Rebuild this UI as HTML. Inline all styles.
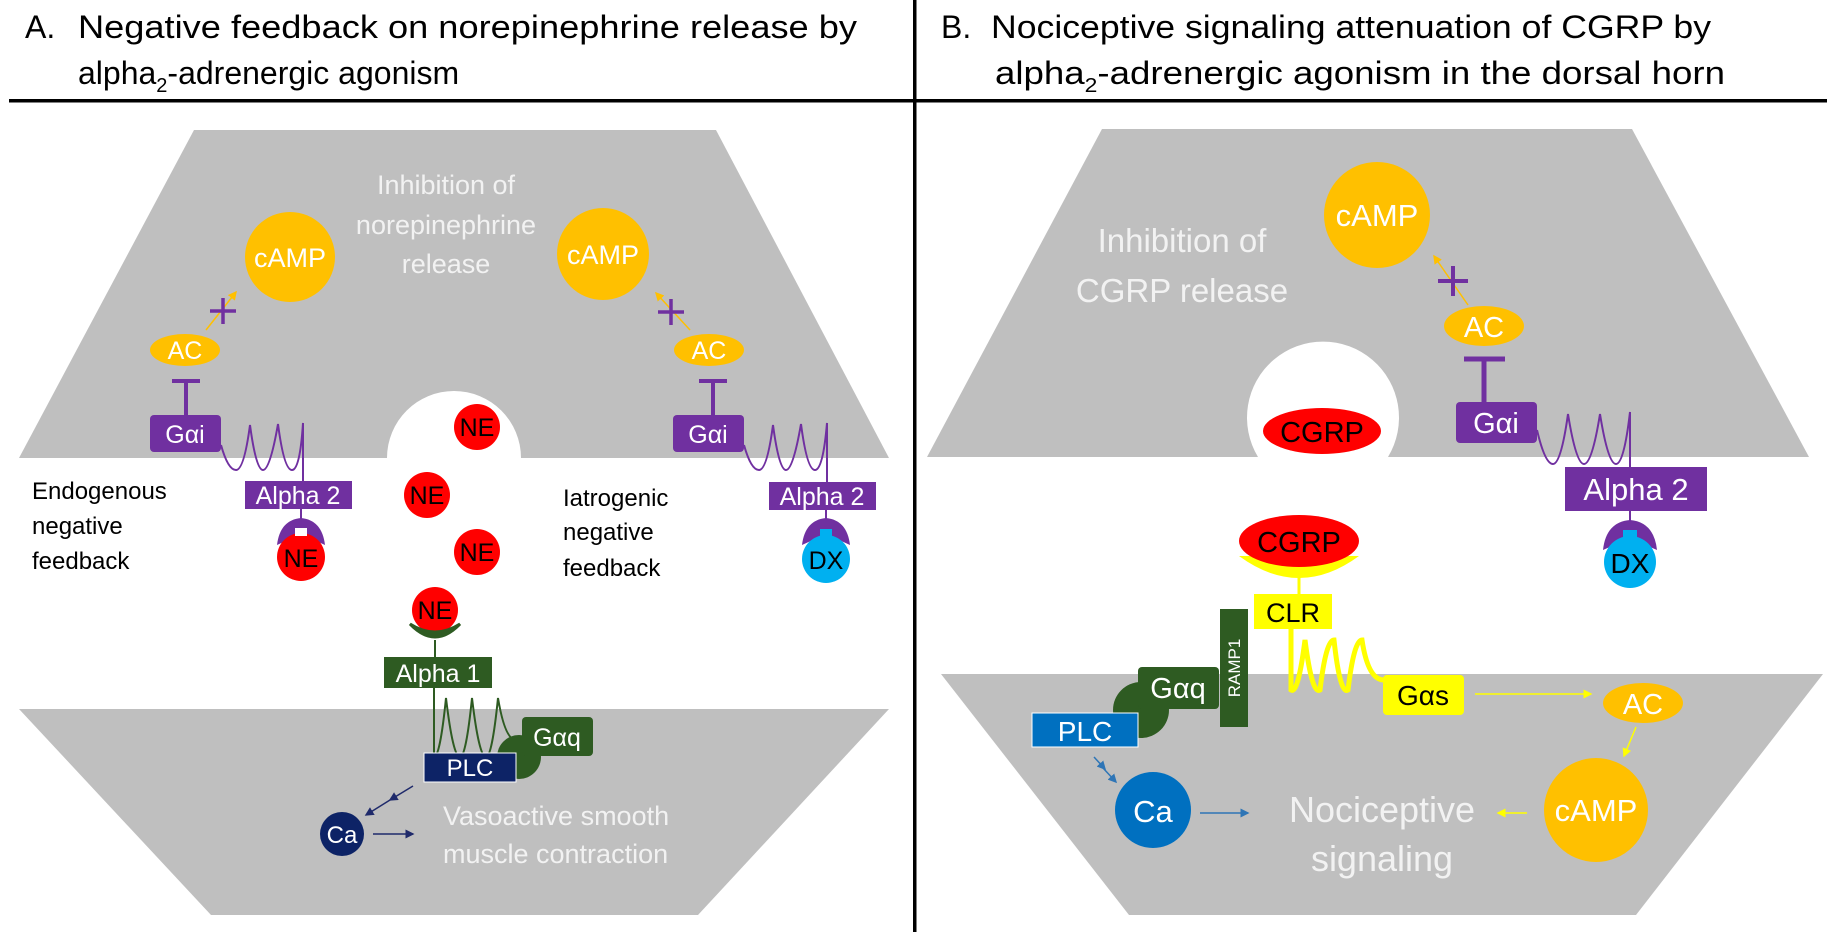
<!DOCTYPE html>
<html><head><meta charset="utf-8"><style>
html,body{margin:0;padding:0;background:#fff;}
svg{display:block;font-family:"Liberation Sans",sans-serif;}
</style></head><body>
<svg width="1835" height="932" viewBox="0 0 1835 932" xmlns="http://www.w3.org/2000/svg">
<defs>
<marker id="ao" markerWidth="6" markerHeight="6" refX="5" refY="3" orient="auto"><path d="M0,0 L6,3 L0,6 z" fill="#ffc000"/></marker>
<marker id="ay" markerWidth="6" markerHeight="6" refX="5" refY="3" orient="auto"><path d="M0,0 L6,3 L0,6 z" fill="#ffff00"/></marker>
<marker id="an" markerWidth="6" markerHeight="6" refX="5" refY="3" orient="auto"><path d="M0,0 L6,3 L0,6 z" fill="#1f2a6b"/></marker>
<marker id="ab" markerWidth="6" markerHeight="6" refX="5" refY="3" orient="auto"><path d="M0,0 L6,3 L0,6 z" fill="#2e75b6"/></marker>
</defs>
<!-- titles -->
<text x="25" y="38" font-size="32" fill="#000">A.</text>
<text x="78" y="38" font-size="32" fill="#000" textLength="779" lengthAdjust="spacingAndGlyphs">Negative feedback on norepinephrine release by</text>
<text x="78" y="84" font-size="32" fill="#000">alpha<tspan font-size="20" dy="8">2</tspan><tspan dy="-8">-adrenergic agonism</tspan></text>
<text x="941" y="38" font-size="32" fill="#000">B.</text>
<text x="991" y="38" font-size="32" fill="#000" textLength="720" lengthAdjust="spacingAndGlyphs">Nociceptive signaling attenuation of CGRP by</text>
<text x="995" y="84" font-size="32" fill="#000" textLength="730" lengthAdjust="spacingAndGlyphs">alpha<tspan font-size="20" dy="8">2</tspan><tspan dy="-8">-adrenergic agonism in the dorsal horn</tspan></text>
<rect x="9" y="99" width="1818" height="3.5" fill="#000"/>
<rect x="913" y="0" width="3.5" height="932" fill="#000"/>

<!-- Panel A shapes -->
<polygon points="194,130 716,130 889,458 19,458" fill="#bfbfbf"/>
<path d="M387,458 A67,67 0 1 1 521,458 Z" fill="#fff"/>
<polygon points="19,709 889,709 698,915 211,915" fill="#bfbfbf"/>
<g fill="#f2f2f2" font-size="27" text-anchor="middle">
<text x="446" y="194">Inhibition of</text><text x="446" y="234">norepinephrine</text><text x="446" y="273">release</text>
</g>
<circle cx="290" cy="257" r="45" fill="#ffc000"/><text x="290" y="267" font-size="27" fill="#fff" text-anchor="middle">cAMP</text>
<circle cx="603" cy="254" r="46" fill="#ffc000"/><text x="603" y="264" font-size="27" fill="#fff" text-anchor="middle">cAMP</text>
<line x1="206" y1="330" x2="236" y2="292" stroke="#ffc000" stroke-width="1.5" marker-end="url(#ao)"/>
<line x1="690" y1="330" x2="656" y2="293" stroke="#ffc000" stroke-width="1.5" marker-end="url(#ao)"/>
<g stroke="#7030a0" stroke-width="3.5"><line x1="210" y1="311" x2="236" y2="311"/><line x1="223" y1="298" x2="223" y2="324"/>
<line x1="658" y1="312" x2="684" y2="312"/><line x1="671" y1="299" x2="671" y2="325"/></g>
<ellipse cx="185" cy="350" rx="35" ry="16" fill="#ffc000"/><text x="185" y="359" font-size="25" fill="#fff" text-anchor="middle">AC</text>
<ellipse cx="709" cy="350" rx="35" ry="16" fill="#ffc000"/><text x="709" y="359" font-size="25" fill="#fff" text-anchor="middle">AC</text>
<g stroke="#7030a0" stroke-width="4"><line x1="172" y1="381" x2="200" y2="381"/><line x1="186" y1="381" x2="186" y2="415"/><line x1="699" y1="381" x2="727" y2="381"/><line x1="713" y1="381" x2="713" y2="415"/></g>
<rect x="150" y="415" width="71" height="37" rx="4" fill="#7030a0"/><text x="185" y="443" font-size="25" fill="#fff" text-anchor="middle">Gαi</text>
<rect x="673" y="415" width="71" height="37" rx="4" fill="#7030a0"/><text x="708" y="443" font-size="25" fill="#fff" text-anchor="middle">Gαi</text>
<path d="M221,445 Q228,470 236,470 Q244,470 250,425 Q256,470 263,470 Q270,470 278,424 Q284,470 292,470 Q300,470 303,423 L303,481" fill="none" stroke="#7030a0" stroke-width="2"/>
<path d="M744,445 Q751,470 759,470 Q767,470 773,425 Q779,470 786,470 Q793,470 801,424 Q807,470 815,470 Q823,470 827,423 L827,482" fill="none" stroke="#7030a0" stroke-width="2"/>
<rect x="245" y="481" width="107" height="28" fill="#7030a0"/><text x="298" y="504" font-size="25" fill="#fff" text-anchor="middle">Alpha 2</text>
<rect x="769" y="482" width="107" height="28" fill="#7030a0"/><text x="822" y="505" font-size="25" fill="#fff" text-anchor="middle">Alpha 2</text>
<line x1="301" y1="509" x2="301" y2="520" stroke="#7030a0" stroke-width="2"/>
<path d="M277,545 Q280,520 301,518 Q322,520 325,545 L301,534 Z" fill="#7030a0"/>
<circle cx="301" cy="557" r="24" fill="#ff0000"/><rect x="295" y="528" width="12" height="8" fill="#fff"/><text x="301" y="567" font-size="25" fill="#000" text-anchor="middle">NE</text>
<line x1="826" y1="510" x2="826" y2="520" stroke="#7030a0" stroke-width="2"/>
<path d="M802,545 Q805,520 826,518 Q847,520 850,545 L826,534 Z" fill="#7030a0"/>
<circle cx="826" cy="559" r="24" fill="#00b0f0"/><rect x="820" y="529" width="12" height="8" fill="#00b0f0"/><text x="826" y="569" font-size="25" fill="#000" text-anchor="middle">DX</text>
<g font-size="25" fill="#000" text-anchor="middle">
<circle cx="477" cy="427" r="23" fill="#ff0000"/><text x="477" y="436">NE</text>
<circle cx="427" cy="495" r="23" fill="#ff0000"/><text x="427" y="504">NE</text>
<circle cx="477" cy="552" r="23" fill="#ff0000"/><text x="477" y="561">NE</text>
<circle cx="435" cy="610" r="23" fill="#ff0000"/><text x="435" y="619">NE</text>
</g>
<g font-size="24" fill="#000"><text x="32" y="499">Endogenous</text><text x="32" y="534">negative</text><text x="32" y="569">feedback</text>
<text x="563" y="506">Iatrogenic</text><text x="563" y="540">negative</text><text x="563" y="576">feedback</text></g>
<path d="M410,624 Q435,650 460,624 Q435,640 410,624 Z" fill="#2e5b22" stroke="#2e5b22" stroke-width="3"/>
<line x1="435" y1="640" x2="435" y2="657" stroke="#2e5b22" stroke-width="2"/>
<rect x="384" y="657" width="108" height="31" fill="#2e5b22"/><text x="438" y="682" font-size="25" fill="#fff" text-anchor="middle">Alpha 1</text>
<path d="M434,688 L434,757 Q440,757 446,698 Q453,757 460,757 Q466,757 472,698 Q479,757 486,757 Q492,757 498,698 Q505,740 516,740" fill="none" stroke="#2e5b22" stroke-width="2"/>
<circle cx="519" cy="757" r="22" fill="#2e5b22"/>
<rect x="522" y="717" width="71" height="39" rx="4" fill="#2e5b22"/><text x="557" y="746" font-size="25" fill="#fff" text-anchor="middle">Gαq</text>
<rect x="424" y="753" width="92" height="29" fill="#0d2366" stroke="#fff" stroke-width="1"/><text x="470" y="776" font-size="24" fill="#fff" text-anchor="middle">PLC</text>
<line x1="413" y1="786" x2="390" y2="800" stroke="#1f2a6b" stroke-width="1.5" marker-end="url(#an)"/>
<line x1="390" y1="800" x2="366" y2="815" stroke="#1f2a6b" stroke-width="1.5" marker-end="url(#an)"/>
<circle cx="342" cy="834" r="22" fill="#0d2366"/><text x="342" y="843" font-size="24" fill="#fff" text-anchor="middle">Ca</text>
<line x1="373" y1="834" x2="413" y2="834" stroke="#1f2a6b" stroke-width="1.5" marker-end="url(#an)"/>
<g font-size="27" fill="#f2f2f2"><text x="443" y="825">Vasoactive smooth</text><text x="443" y="863">muscle contraction</text></g>

<!-- Panel B -->
<polygon points="1102,129 1632,129 1809,457 927,457" fill="#bfbfbf"/>
<path d="M1258,457 A76,76 0 1 1 1388,457 Z" fill="#fff"/>
<ellipse cx="1322" cy="431" rx="59" ry="23" fill="#ff0000"/><text x="1322" y="442" font-size="29" fill="#000" text-anchor="middle">CGRP</text>
<polygon points="941,674 1823,674 1636,915 1129,915" fill="#bfbfbf"/>
<g font-size="33" fill="#f2f2f2" text-anchor="middle"><text x="1182" y="252">Inhibition of</text><text x="1182" y="302">CGRP release</text></g>
<circle cx="1377" cy="215" r="53" fill="#ffc000"/><text x="1377" y="226" font-size="31" fill="#fff" text-anchor="middle">cAMP</text>
<line x1="1468" y1="305" x2="1434" y2="256" stroke="#ffc000" stroke-width="1.5" marker-end="url(#ao)"/>
<g stroke="#7030a0" stroke-width="4"><line x1="1438" y1="281" x2="1468" y2="281"/><line x1="1453" y1="266" x2="1453" y2="296"/></g>
<ellipse cx="1484" cy="326" rx="40" ry="20" fill="#ffc000"/><text x="1484" y="337" font-size="29" fill="#fff" text-anchor="middle">AC</text>
<g stroke="#7030a0" stroke-width="5"><line x1="1464" y1="359" x2="1505" y2="359"/><line x1="1484" y1="359" x2="1484" y2="402"/></g>
<rect x="1456" y="402" width="81" height="41" rx="4" fill="#7030a0"/><text x="1496" y="433" font-size="29" fill="#fff" text-anchor="middle">Gαi</text>
<path d="M1537,430 Q1545,464 1553,464 Q1561,464 1568,414 Q1576,464 1584,464 Q1592,464 1600,414 Q1608,464 1616,464 Q1624,464 1630,412 L1630,467" fill="none" stroke="#7030a0" stroke-width="2"/>
<rect x="1565" y="467" width="142" height="44" fill="#7030a0"/><text x="1636" y="500" font-size="31" fill="#fff" text-anchor="middle">Alpha 2</text>
<line x1="1630" y1="511" x2="1630" y2="525" stroke="#7030a0" stroke-width="2"/>
<path d="M1603,550 Q1606,522 1630,520 Q1654,522 1657,550 L1630,538 Z" fill="#7030a0"/>
<circle cx="1630" cy="562" r="26" fill="#00b0f0"/><rect x="1623" y="530" width="14" height="9" fill="#00b0f0"/><text x="1630" y="573" font-size="28" fill="#000" text-anchor="middle">DX</text>
<path d="M1239,556 Q1299,600 1359,556 Z" fill="#ffff00"/>
<ellipse cx="1299" cy="541" rx="60" ry="26" fill="#ff0000"/><text x="1299" y="552" font-size="29" fill="#000" text-anchor="middle">CGRP</text>
<line x1="1299" y1="575" x2="1299" y2="594" stroke="#ffff00" stroke-width="3"/>
<rect x="1254" y="594" width="78" height="35" fill="#ffff00"/><text x="1293" y="622" font-size="27" fill="#000" text-anchor="middle">CLR</text>
<path d="M1291,629 L1291,690 Q1298,695 1305,640 Q1312,695 1320,690 Q1326,640 1334,640 Q1340,695 1348,690 Q1354,640 1362,640 Q1368,680 1384,680" fill="none" stroke="#ffff00" stroke-width="5"/>
<rect x="1220" y="609" width="28" height="118" fill="#2e5b22"/>
<text x="1234" y="668" font-size="17" fill="#fff" text-anchor="middle" transform="rotate(-90 1234 668)" dy="6">RAMP1</text>
<circle cx="1141" cy="710" r="28" fill="#2e5b22"/>
<rect x="1138" y="667" width="81" height="42" rx="4" fill="#2e5b22"/><text x="1178" y="698" font-size="29" fill="#fff" text-anchor="middle">Gαq</text>
<rect x="1032" y="713" width="106" height="34" fill="#0070c0" stroke="#fff" stroke-width="1"/><text x="1085" y="741" font-size="28" fill="#fff" text-anchor="middle">PLC</text>
<rect x="1383" y="675" width="81" height="40" rx="4" fill="#ffff00"/><text x="1423" y="705" font-size="28" fill="#000" text-anchor="middle">Gαs</text>
<line x1="1094" y1="757" x2="1105" y2="769" stroke="#2e75b6" stroke-width="1.5" marker-end="url(#ab)"/>
<line x1="1103" y1="768" x2="1116" y2="782" stroke="#2e75b6" stroke-width="1.5" marker-end="url(#ab)"/>
<circle cx="1153" cy="810" r="38" fill="#0070c0"/><text x="1153" y="822" font-size="31" fill="#fff" text-anchor="middle">Ca</text>
<line x1="1200" y1="813" x2="1248" y2="813" stroke="#2e75b6" stroke-width="1.5" marker-end="url(#ab)"/>
<g font-size="36" fill="#f2f2f2" text-anchor="middle"><text x="1382" y="822">Nociceptive</text><text x="1382" y="871">signaling</text></g>
<ellipse cx="1643" cy="703" rx="40" ry="20" fill="#ffc000"/><text x="1643" y="714" font-size="29" fill="#fff" text-anchor="middle">AC</text>
<circle cx="1596" cy="810" r="52" fill="#ffc000"/><text x="1596" y="821" font-size="31" fill="#fff" text-anchor="middle">cAMP</text>
<line x1="1475" y1="694" x2="1591" y2="694" stroke="#ffff00" stroke-width="1.5" marker-end="url(#ay)"/>
<line x1="1636" y1="727" x2="1624" y2="756" stroke="#ffff00" stroke-width="1.5" marker-end="url(#ay)"/>
<line x1="1527" y1="813" x2="1498" y2="813" stroke="#ffff00" stroke-width="1.5" marker-end="url(#ay)"/>
</svg>
</body></html>
